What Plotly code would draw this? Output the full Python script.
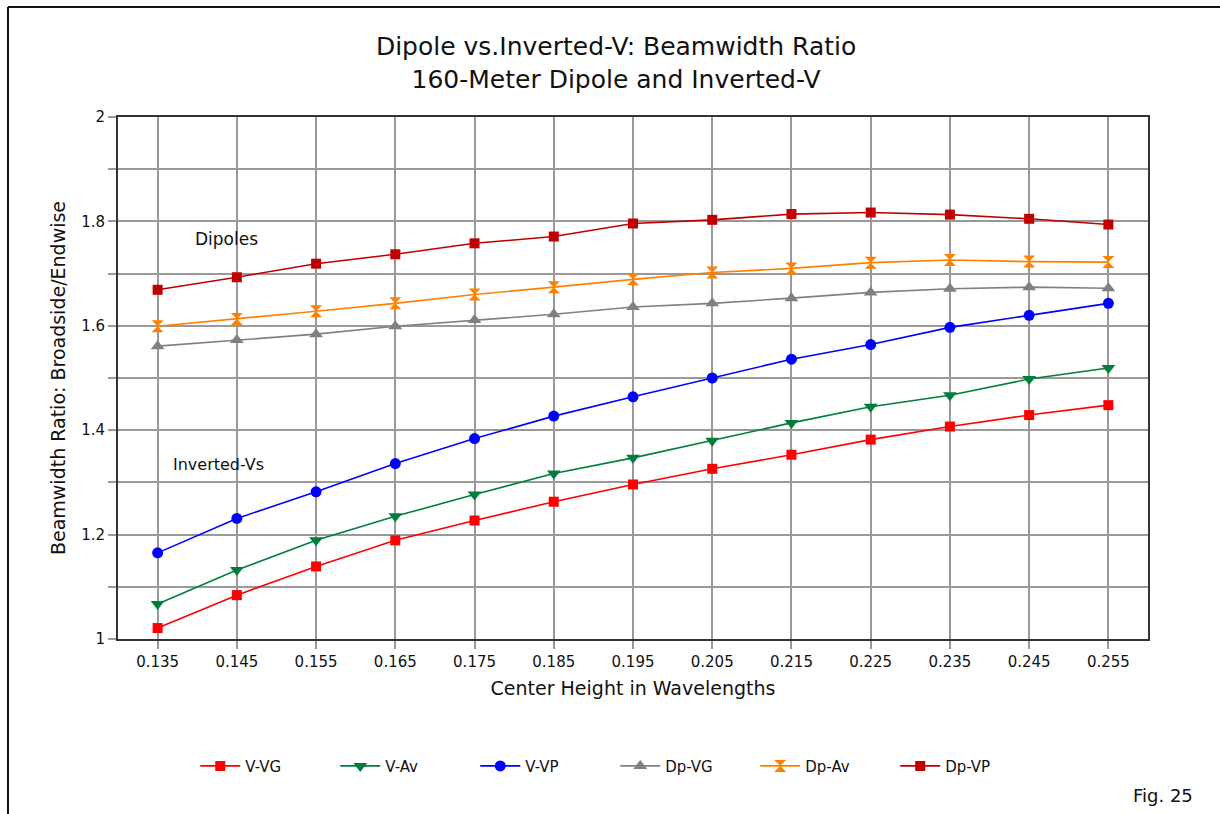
import plotly.graph_objects as go

# Center height (wavelengths) for each computed case
heights = ["0.135", "0.145", "0.155", "0.165", "0.175", "0.185", "0.195",
           "0.205", "0.215", "0.225", "0.235", "0.245", "0.255"]

# Beamwidth ratio (broadside / endwise) for each antenna and ground type
v_vg = [1.021, 1.084, 1.139, 1.189, 1.227, 1.263, 1.296, 1.326, 1.353, 1.382, 1.407, 1.429, 1.448]
v_av = [1.067, 1.132, 1.189, 1.235, 1.277, 1.317, 1.347, 1.380, 1.414, 1.445, 1.467, 1.498, 1.519]
v_vp = [1.165, 1.231, 1.282, 1.336, 1.384, 1.427, 1.464, 1.500, 1.536, 1.564, 1.597, 1.620, 1.643]
dp_vg = [1.561, 1.573, 1.584, 1.599, 1.611, 1.622, 1.636, 1.643, 1.653, 1.664, 1.671, 1.674, 1.672]
dp_av = [1.599, 1.613, 1.628, 1.643, 1.660, 1.674, 1.689, 1.702, 1.710, 1.721, 1.726, 1.723, 1.722]
dp_vp = [1.669, 1.693, 1.719, 1.737, 1.758, 1.771, 1.796, 1.803, 1.814, 1.817, 1.813, 1.805, 1.794]

y_ticks = [1, 1.2, 1.4, 1.6, 1.8, 2]
y_tick_text = ["1", "1.2", "1.4", "1.6", "1.8", "2"]

FONT = "DejaVu Sans, Arial, sans-serif"

series = [
    ("V-VG", v_vg, "#ff0000", "square", 10),
    ("V-Av", v_av, "#007f3c", "triangle-down", 12),
    ("V-VP", v_vp, "#0000ff", "circle", 11),
    ("Dp-VG", dp_vg, "#808080", "triangle-up", 12),
    ("Dp-Av", dp_av, "#ff8000", "hourglass", 12),
    ("Dp-VP", dp_vp, "#c00000", "square", 10),
]

fig = go.Figure()
for name, vals, color, symbol, size in series:
    fig.add_trace(go.Scatter(
        x=heights, y=vals, name=name, mode="lines+markers",
        line=dict(color=color, width=1.6),
        marker=dict(symbol=symbol, size=size, color=color, line=dict(width=0)),
    ))

fig.update_layout(
    width=1220, height=814,
    margin=dict(l=118, r=72, t=117, b=175),
    paper_bgcolor="white", plot_bgcolor="white",
    font=dict(family=FONT, color="#111111", size=15),
    title=dict(
        text="Dipole vs.Inverted-V: Beamwidth Ratio<br>160-Meter Dipole and Inverted-V",
        x=0.505, xanchor="center", y=0.932, yanchor="top",
        font=dict(size=25, family=FONT, color="#111111"),
    ),
    showlegend=True,
    legend=dict(
        orientation="h", x=0.075, xanchor="left", y=-0.212, yanchor="top",
        font=dict(size=15, family=FONT), entrywidth=85, itemwidth=40,
        bgcolor="rgba(0,0,0,0)",
    ),
)

fig.update_xaxes(
    type="category", range=[-0.5, 12.5],
    showgrid=True, gridcolor="#999999", gridwidth=2,
    showline=True, linecolor="#333333", linewidth=2, mirror=True,
    ticks="outside", ticklen=8, tickcolor="#999999", tickwidth=2,
    tickfont=dict(size=15, family=FONT),
    title=dict(text="Center Height in Wavelengths", font=dict(size=19, family=FONT), standoff=12),
    zeroline=False,
)
fig.update_yaxes(
    range=[1, 2], tickvals=y_ticks, ticktext=y_tick_text,
    showgrid=True, gridcolor="#999999", gridwidth=2,
    showline=True, linecolor="#333333", linewidth=2, mirror=True,
    ticks="outside", ticklen=8, tickcolor="#999999", tickwidth=2,
    tickfont=dict(size=15, family=FONT),
    minor=dict(dtick=0.1, showgrid=True, gridcolor="#999999", gridwidth=2,
               ticks="outside", ticklen=8, tickcolor="#999999", tickwidth=2),
    title=dict(text="Beamwidth Ratio: Broadside/Endwise", font=dict(size=19, family=FONT), standoff=10),
    zeroline=False,
)

# Group labels inside the plot
fig.add_annotation(x=0.87, y=1.766, xref="x", yref="y", text="Dipoles",
                   showarrow=False, font=dict(size=17, family=FONT))
fig.add_annotation(x=0.77, y=1.335, xref="x", yref="y", text="Inverted-Vs",
                   showarrow=False, font=dict(size=16, family=FONT))

# Figure number
fig.add_annotation(x=1.0456, y=-0.299, xref="paper", yref="paper", text="Fig. 25",
                   showarrow=False, xanchor="right", yanchor="middle",
                   font=dict(size=18, family=FONT))

# Frame lines along the left and top edges of the page
fig.add_shape(type="line", xref="paper", yref="paper",
              x0=-0.1068, x1=-0.1068, y0=1.2107, y1=-0.4,
              line=dict(color="#111111", width=2))
fig.add_shape(type="line", xref="paper", yref="paper",
              x0=-0.1068, x1=1.07, y0=1.2107, y1=1.2107,
              line=dict(color="#111111", width=2))

fig.write_html("out.html")
